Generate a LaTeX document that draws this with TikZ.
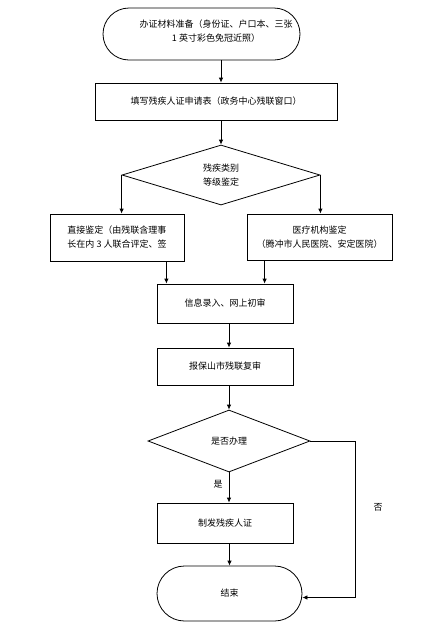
\documentclass[tikz,border=0pt]{standalone}
\usepackage{fontspec}
\setmainfont{Noto Sans CJK SC}
\usepackage{tikz}
\usetikzlibrary{shapes.geometric, shapes.misc, arrows.meta, positioning, calc}

\begin{document}
\begin{tikzpicture}[
    x=1pt, y=-1pt,
    box/.style={rectangle, draw=black, line width=0.8pt, inner sep=0pt, align=center, font=\fontsize{9pt}{14pt}\selectfont},
    term/.style={rounded rectangle, draw=black, line width=0.8pt, inner sep=0pt, align=center, font=\fontsize{9pt}{14pt}\selectfont},
    choice/.style={diamond, draw=black, line width=0.8pt, inner sep=0pt, align=center, font=\fontsize{9pt}{14pt}\selectfont},
    note/.style={font=\fontsize{9pt}{14pt}\selectfont, align=center, inner sep=0pt},
    link/.style={draw=black, line width=0.8pt, -{Latex[length=5pt,width=4.5pt]}}
]

\fill[white] (0,0) rectangle (447,630);
\useasboundingbox (0,0) rectangle (447,630);

% --- Start: documents ---
\node[term, minimum width=197pt, minimum height=52pt] (start) at (201.5,34) {};
\node[note] (starttext) at (216,31) {办证材料准备（身份证、户口本、三张\\1 英寸彩色免冠近照）};

% --- Application form ---
\node[box, minimum width=242pt, minimum height=37pt] (apply) at (216,101.5) {填写残疾人证申请表（政务中心残联窗口）};

% --- Category and level ---
\node[choice, minimum width=198pt, minimum height=60pt] (check) at (221,175) {残疾类别\\等级鉴定};

% --- Two kinds of assessment ---
\node[box, minimum width=134pt, minimum height=47pt] (direct) at (117,237.5) {直接鉴定（由残联含理事\\长在内 3 人联合评定、签};
\node[box, minimum width=145pt, minimum height=46pt] (hosp) at (319.5,237) {医疗机构鉴定\\（腾冲市人民医院、安定医院）};

% --- Entry and review ---
\node[box, minimum width=136pt, minimum height=39pt] (entry) at (225,303.5) {信息录入、网上初审};
\node[box, minimum width=136pt, minimum height=37pt] (review) at (225,366.5) {报保山市残联复审};

% --- Decision ---
\node[choice, minimum width=162pt, minimum height=62pt] (decide) at (229,441) {是否办理};

% --- Issue and end ---
\node[box, minimum width=136pt, minimum height=40pt] (issue) at (225,523) {制发残疾人证};
\node[term, minimum width=145pt, minimum height=55pt] (finish) at (229.5,593.5) {结束};

% --- Connectors ---
\coordinate (d1) at ([xshift=-18pt]direct.south east);
\coordinate (h1) at ([xshift=18pt]hosp.south west);

\draw[link] (start.south -| check.north) -- (apply.north -| check.north);
\draw[link] (apply.south -| check.north) -- (check.north);
\draw[link] (check.west) -- (check.west |- direct.north);
\draw[link] (check.east) -- (check.east |- hosp.north);
\draw[link] (d1) -- (d1 |- entry.north);
\draw[link] (h1) -- (h1 |- entry.north);
\draw[link] (entry.south -| decide.north) -- (review.north -| decide.north);
\draw[link] (review.south -| decide.north) -- (decide.north);
\draw[link] (decide.south) -- node[note, pos=0.4, left=6pt] (yes) {是} (issue.north -| decide.south);
\draw[link] (issue.south -| finish.north) -- (finish.north);
\draw[link] (decide.east) -- ++(45,0) |- ([yshift=-4pt]finish.east);
\node[note] (no) at (378,507) {否};

\end{tikzpicture}
\end{document}
